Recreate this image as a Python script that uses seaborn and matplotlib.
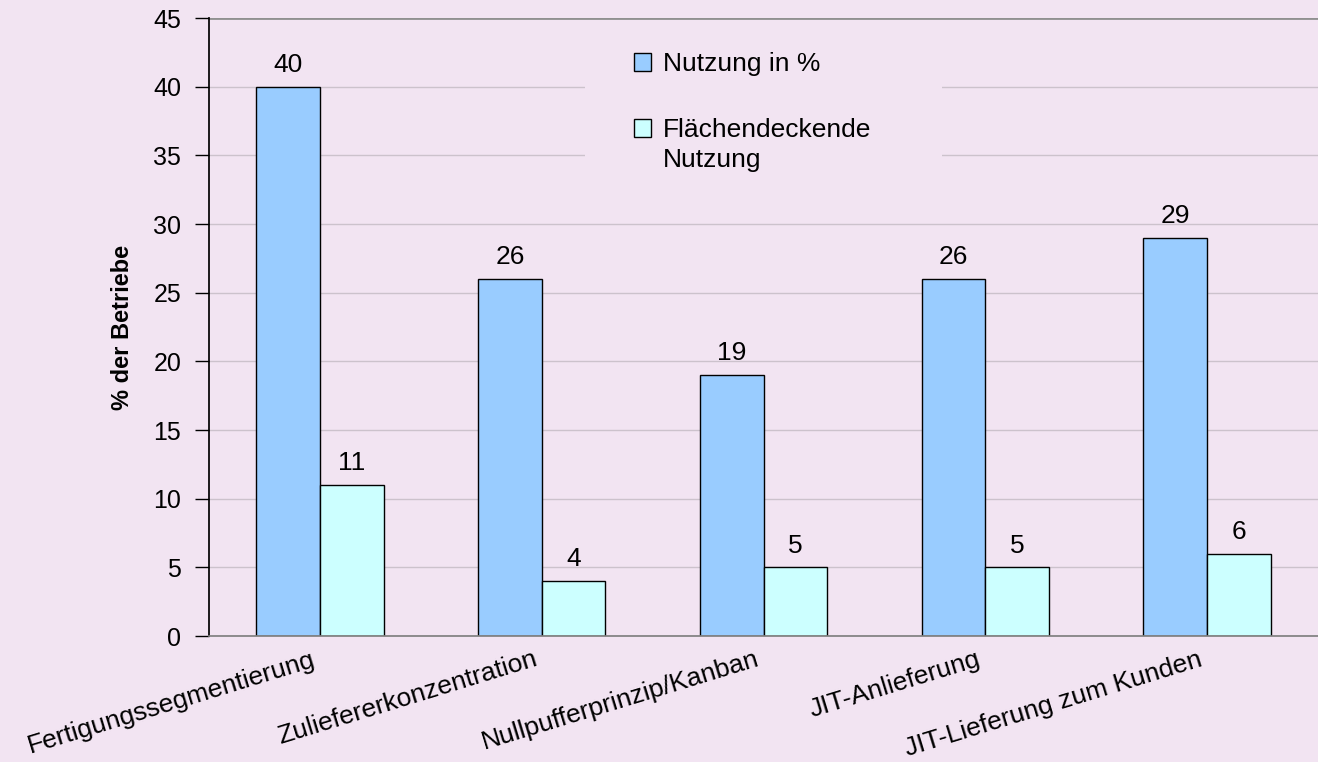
import matplotlib
matplotlib.use("Agg")
import matplotlib.pyplot as plt
import matplotlib.transforms as mtransforms
import seaborn as sns
import pandas as pd
from matplotlib.patches import Patch, Rectangle

categories = ["Fertigungssegmentierung", "Zuliefererkonzentration",
              "Nullpufferprinzip/Kanban", "JIT-Anlieferung", "JIT-Lieferung zum Kunden"]
nutzung = [40, 26, 19, 26, 29]
flaechendeckend = [11, 4, 5, 5, 6]
series_names = ["Nutzung in %", "Flächendeckende Nutzung"]
legend_lines = [["Nutzung in %"], ["Flächendeckende", "Nutzung"]]
yticks = [0, 5, 10, 15, 20, 25, 30, 35, 40, 45]

bg = "#F2E4F2"
colors = ["#99CCFF", "#CCFFFF"]

df = pd.DataFrame({
    "Kategorie": categories * 2,
    "Serie": [series_names[0]] * len(categories) + [series_names[1]] * len(categories),
    "Wert": nutzung + flaechendeckend,
})

sns.set_theme(style="white")
plt.rcParams["font.family"] = ["Liberation Sans", "DejaVu Sans"]
plt.rcParams["text.color"] = "black"
plt.rcParams["xtick.color"] = "black"
plt.rcParams["ytick.color"] = "black"
plt.rcParams["axes.labelcolor"] = "black"

W, H = 1318, 762
fig = plt.figure(figsize=(W/100, H/100), dpi=100, facecolor=bg)
ax = fig.add_axes([209/W, 1 - 636/H, 1 - 209/W, (636 - 18)/H])
ax.set_facecolor(bg)

sns.barplot(data=df, x="Kategorie", y="Wert", hue="Serie", order=categories,
            hue_order=series_names, palette=colors, width=0.575,
            edgecolor="black", linewidth=1.0, ax=ax, legend=False, saturation=1)

ax.set_ylim(0, 45)
ax.set_xlim(-0.5, len(categories) - 0.5)
ax.set_yticks(yticks)
ax.set_yticklabels([str(t) for t in yticks], fontsize=18)
ax.yaxis.grid(True, color="#CCC2CC", linewidth=1)
ax.set_axisbelow(True)
for s in ["right", "top"]:
    ax.spines[s].set_visible(False)
ax.spines["left"].set_color("black")
ax.spines["bottom"].set_color("#808080")
ax.axhline(45, color="#909090", linewidth=2, zorder=0.6)
ax.tick_params(axis="y", which="major", left=True, length=10, width=1, color="black", pad=10)
ax.tick_params(axis="x", bottom=False, pad=2)

ax.set_xticks(range(len(categories)))
ax.set_xticklabels(categories, rotation=17, ha="right", va="top",
                   rotation_mode="anchor", fontsize=19)
shift = mtransforms.ScaledTranslation(-9/100, 0, fig.dpi_scale_trans)
for lbl in ax.get_xticklabels():
    lbl.set_transform(lbl.get_transform() + shift)
ax.set_xlabel("")
ax.set_ylabel("% der Betriebe", fontsize=17, fontweight="bold")
ax.yaxis.set_label_coords(-0.068, 0.5)

for cont in ax.containers:
    ax.bar_label(cont, labels=[f"{int(v)}" for v in cont.datavalues], padding=7, fontsize=19)

# legend background patch hiding gridlines
ax.add_patch(Rectangle((585/W, 1 - 190/H), (942 - 585)/W, (190 - 35)/H,
                       transform=fig.transFigure, facecolor=bg, edgecolor="none",
                       zorder=0.9))

handles = [Patch(facecolor=colors[i], edgecolor="black", linewidth=1) for i in range(2)]
leg = fig.legend(handles, [l[0] for l in legend_lines], loc="upper left",
                 bbox_to_anchor=(621/W, 1 - 39/H), frameon=False, fontsize=19,
                 handlelength=0.65, handleheight=0.65, handletextpad=0.45,
                 labelspacing=1.6, borderpad=0.0)

fig.canvas.draw()
t2 = leg.get_texts()[1]
bb = t2.get_window_extent()
fig.text(bb.x0 / W, (bb.y0 - 30) / H, legend_lines[1][1], fontsize=19,
         ha="left", va="bottom")

fig.savefig("out.png", dpi=100, facecolor=bg)
